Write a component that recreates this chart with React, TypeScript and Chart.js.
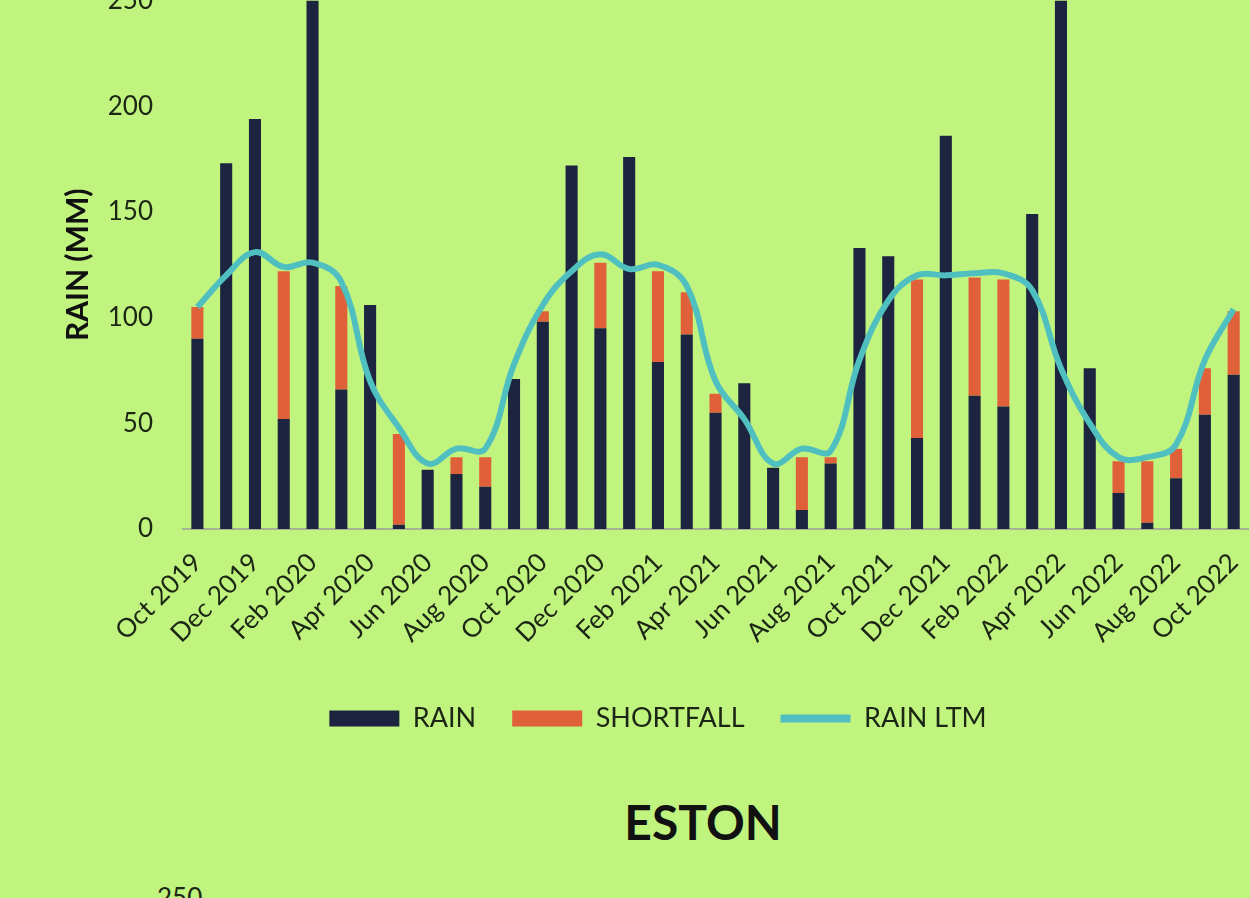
import React, { useEffect, useRef } from 'react';
import { Chart, registerables } from 'chart.js';

Chart.register(...registerables);

const months = [
  'Oct 2019', 'Nov 2019', 'Dec 2019', 'Jan 2020', 'Feb 2020', 'Mar 2020', 'Apr 2020', 'May 2020', 'Jun 2020',
  'Jul 2020', 'Aug 2020', 'Sep 2020', 'Oct 2020', 'Nov 2020', 'Dec 2020', 'Jan 2021', 'Feb 2021', 'Mar 2021',
  'Apr 2021', 'May 2021', 'Jun 2021', 'Jul 2021', 'Aug 2021', 'Sep 2021', 'Oct 2021', 'Nov 2021', 'Dec 2021',
  'Jan 2022', 'Feb 2022', 'Mar 2022', 'Apr 2022', 'May 2022', 'Jun 2022', 'Jul 2022', 'Aug 2022', 'Sep 2022',
  'Oct 2022',
];

const rain = [
  90, 173, 194, 52, 250, 66, 106, 2, 28, 26, 20, 71, 98, 172, 95, 176, 79, 92, 55, 69, 29, 9, 31, 133, 129, 43,
  186, 63, 58, 149, 250, 76, 17, 3, 24, 54, 73,
];

const shortfall = [
  15, 0, 0, 70, 0, 49, 0, 43, 0, 8, 14, 0, 5, 0, 31, 0, 43, 20, 9, 0, 0, 25, 3, 0, 0, 75, 0, 56, 60, 0, 0, 0, 15,
  29, 14, 22, 30,
];

const rainLtm = [
  105, 120, 131, 124, 126, 117, 70, 48, 31, 38, 38, 78, 106, 122, 130, 123, 125, 115, 70, 52, 31, 38, 37, 80, 108,
  120, 120, 121, 121, 113, 76, 50, 34, 34, 40, 80, 104,
];

const yMin = 0;
const yMax = 250;
const yStep = 50;

const seriesNames = ['RAIN', 'SHORTFALL', 'RAIN LTM'];
const chartTitle = 'ESTON';
const yTitle = 'RAIN (MM)';
const nextChartTopTick = '250';

const BG = '#c0f47f';
const NAVY = '#1d2440';
const ORANGE = '#e0603a';
const TEAL = '#4fbfc0';
const TEXT = '#1c2614';

export default function App() {
  const ref = useRef<HTMLCanvasElement>(null);

  useEffect(() => {
    document.body.style.margin = '0';
    const canvas = ref.current;
    if (!canvas) return;
    const chart = new Chart(canvas, {
      type: 'bar',
      data: {
        labels: months,
        datasets: [
          {
            type: 'bar',
            label: seriesNames[0],
            data: rain,
            backgroundColor: NAVY,
            stack: 'rain',
            order: 2,
            barPercentage: 0.42,
            categoryPercentage: 1,
          },
          {
            type: 'bar',
            label: seriesNames[1],
            data: shortfall,
            backgroundColor: ORANGE,
            stack: 'rain',
            order: 2,
            barPercentage: 0.42,
            categoryPercentage: 1,
          },
          {
            type: 'line',
            label: seriesNames[2],
            data: rainLtm,
            borderColor: TEAL,
            backgroundColor: TEAL,
            borderWidth: 6,
            pointRadius: 0,
            tension: 0.4,
            stack: 'ltm',
            order: 0,
          } as any,
        ],
      },
      options: {
        animation: false,
        responsive: false,
        maintainAspectRatio: false,
        layout: { padding: { left: 62, right: 20, top: 20, bottom: 20 } },
        scales: {
          x: {
            stacked: true,
            grid: { display: false, drawTicks: false },
            border: { display: true, color: '#a3b394', width: 2 },
            ticks: {
              autoSkip: false,
              maxRotation: 45,
              minRotation: 45,
              padding: 18,
              color: TEXT,
              font: { family: 'Lato', size: 26 },
              callback: (_v: any, i: number) => (i % 2 === 0 ? months[i] : ''),
            },
            afterFit: (s: any) => {
              s.height = 140;
            },
          },
          y: {
            stacked: true,
            min: yMin,
            max: yMax,
            grid: { display: false, drawTicks: false },
            border: { display: false },
            ticks: {
              stepSize: yStep,
              padding: 30,
              color: TEXT,
              font: { family: 'Lato', size: 26 },
            },
            title: {
              display: true,
              text: yTitle,
              color: '#111',
              font: { family: 'Lato', size: 30, weight: 'bold' },
              padding: { top: -2, bottom: 0 },
            },
            afterFit: (s: any) => {
              s.width = 121;
            },
          },
        },
        plugins: {
          tooltip: { enabled: false },
          legend: {
            position: 'bottom',
            labels: {
              usePointStyle: true,
              pointStyleWidth: 70,
              boxHeight: 16,
              padding: 36,
              color: TEXT,
              font: { family: 'Lato', size: 27 },
              sort: (a: any, b: any) => a.datasetIndex - b.datasetIndex,
              generateLabels: (c: any) => {
                const items = Chart.defaults.plugins.legend.labels.generateLabels(c);
                return items.map((it: any) => {
                  if (it.datasetIndex === 2) {
                    return { ...it, pointStyle: 'line', lineWidth: 8, strokeStyle: TEAL };
                  }
                  return { ...it, pointStyle: 'rect', lineWidth: 0 };
                });
              },
            },
          },
        },
      },
    });
    return () => chart.destroy();
  }, []);

  return (
    <div
      style={{
        position: 'fixed',
        left: 0,
        top: 0,
        width: 1250,
        height: 898,
        overflow: 'hidden',
        background: BG,
      }}
    >
      <canvas
        ref={ref}
        width={1274}
        height={807}
        style={{ position: 'absolute', left: 0, top: -45, width: 1274, height: 807 }}
      />
      <div
        style={{
          position: 'absolute',
          left: 0,
          width: 1406,
          top: 794,
          textAlign: 'center',
          fontFamily: 'Lato',
          fontWeight: 'bold',
          fontSize: 48,
          lineHeight: '56px',
          color: '#111',
        }}
      >
        {chartTitle}
      </div>
      <div
        style={{
          position: 'absolute',
          left: 157,
          top: 884,
          fontFamily: 'Lato',
          fontSize: 26,
          lineHeight: '26px',
          color: TEXT,
        }}
      >
        {nextChartTopTick}
      </div>
    </div>
  );
}
